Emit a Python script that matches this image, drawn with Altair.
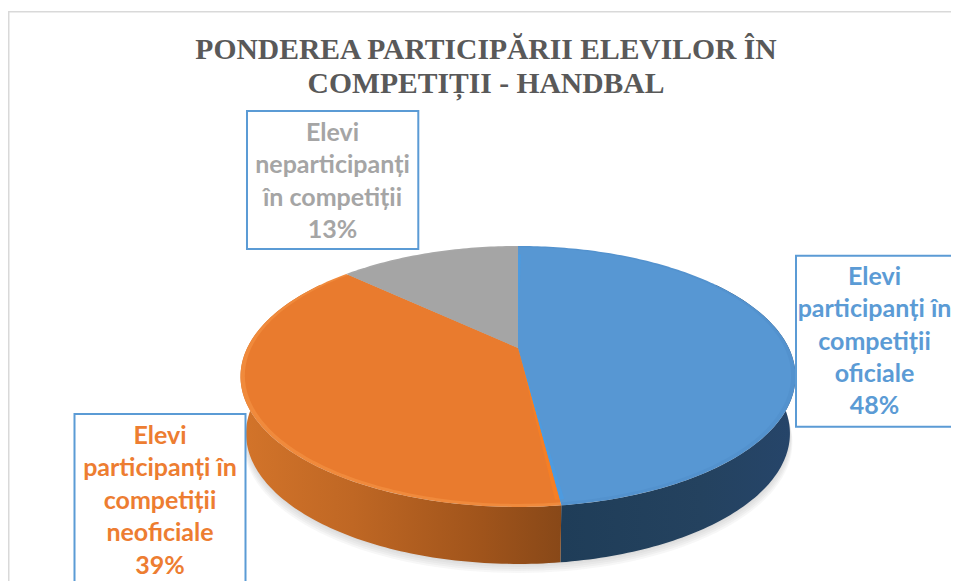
import altair as alt
import numpy as np
import pandas as pd

# --- chart values ---------------------------------------------------------
title_lines = ["PONDEREA PARTICIPĂRII ELEVILOR ÎN", "COMPETIȚII - HANDBAL"]
shares = [48, 39, 13]
labels = [
    ["Elevi", "participanți în", "competiții", "oficiale", "48%"],
    ["Elevi", "participanți în", "competiții", "neoficiale", "39%"],
    ["Elevi", "neparticipanți", "în competiții", "13%"],
]
top_colors = ["#5797d3", "#e97b2e", "#a5a5a5"]
rim_colors = ["#5392ce", "#f08a3c", "#a8a8a8"]
text_colors = ["#5b9bd5", "#ed7d31", "#a5a5a5"]

# --- layout (page pixels) ----------------------------------------------------
W, H = 943, 573
OFF = 8
CX, CY = 518.0, 348.0
A, B, K = 124.3, 270.8, 0.218   # perspective projection of the pie disc
DEPTH = 57.0

x_scale = alt.Scale(domain=[OFF, OFF + W], range=[0, W], nice=False, zero=False)
y_scale = alt.Scale(domain=[OFF, OFF + H], range=[0, H], nice=False, zero=False)


def project(deg, r=1.0, drop=0.0, shrink=1.0):
    a = np.radians(deg)
    px, py = r * np.sin(a), r * np.cos(a)
    w = 1 + K * py
    return CX + shrink * B * px / w, CY - A * py / w + drop


def poly(xs, ys, fill, opacity=1.0):
    df = pd.DataFrame({"x": xs, "y": ys, "i": range(len(xs))})
    return alt.Chart(df).mark_line(
        fill=fill, opacity=opacity, strokeWidth=0, stroke="transparent"
    ).encode(
        x=alt.X("x:Q", scale=x_scale, axis=None),
        y=alt.Y("y:Q", scale=y_scale, axis=None),
        order="i:Q",
    )


def gradient(stops):
    return alt.Gradient(
        gradient="linear", x1=0, x2=1, y1=0, y2=0,
        stops=[alt.GradientStop(offset=o, color=c) for o, c in stops],
    )


def wall(a0, a1, fill):
    angles = np.linspace(a0, a1, int(abs(a1 - a0)) + 2)
    x1, y1 = project(angles)
    x2, y2 = project(angles[::-1], drop=DEPTH, shrink=0.98)
    return poly(np.r_[x1, x2], np.r_[y1, y2], fill)


def slice_top(a0, a1, fill, r=1.0):
    angles = np.linspace(a0, a1, max(int(a1 - a0), 2) + 1)
    x1, y1 = project(angles, r=r)
    return poly(np.r_[CX, x1], np.r_[CY, y1], fill)


total = sum(shares)
bounds = np.cumsum([0] + [360.0 * s / total for s in shares])
layers = []

# frame
layers.append(alt.Chart(pd.DataFrame({"x": [OFF], "x2": [OFF + W], "y": [11.7]}))
              .mark_rule(color="#d9d9d9", strokeWidth=1.5).encode(
    x=alt.X("x:Q", scale=x_scale, axis=None), x2="x2:Q",
    y=alt.Y("y:Q", scale=y_scale, axis=None),
))
layers.append(alt.Chart(pd.DataFrame({"x": [OFF + 0.75], "y": [11.7], "y2": [OFF + H]}))
              .mark_rule(color="#d9d9d9", strokeWidth=1.5).encode(
    x=alt.X("x:Q", scale=x_scale, axis=None),
    y=alt.Y("y:Q", scale=y_scale, axis=None), y2="y2:Q",
))

# soft shadow under the pie
for extra in (9, 7, 5, 3, 1):
    ang = np.arange(0, 360, 2.0)
    sx, sy = project(ang, drop=DEPTH + extra, shrink=0.98 + extra * 0.001)
    layers.append(poly(sx, sy, "#8a8a8a", opacity=0.07))

# side walls
layers.append(wall(55, bounds[1],
                   gradient([(0, "#1f3d58"), (0.6, "#24425f"), (1, "#26456a")])))
layers.append(wall(bounds[1], 305,
                   gradient([(0, "#d3742a"), (0.35, "#bf6724"), (0.75, "#a0541b"), (1, "#884818")])))

# rim then inner disc
for k in range(3):
    layers.append(slice_top(bounds[k], bounds[k + 1], rim_colors[k]))
for k in range(3):
    layers.append(slice_top(bounds[k], bounds[k + 1], top_colors[k], r=0.985))

# brighter stripes along the slice seams
layers.append(slice_top(bounds[0], bounds[0] + 0.8, "#4d9be0", r=0.9))
layers.append(slice_top(bounds[1] - 0.8, bounds[1], "#4d9be0", r=0.97))
layers.append(slice_top(bounds[1], bounds[1] + 0.8, "#f57f25", r=0.97))

# label boxes
boxes = [(796, 970, 255.7, 426.7), (74.5, 245.5, 414, 600), (247, 418.3, 111, 249)]
centers = [(874.5, 276.7), (160, 436), (332.5, 133)]
for k, (x0, x1, y0, y1) in enumerate(boxes):
    df = pd.DataFrame({"x": [x0], "x2": [x1], "y": [y0], "y2": [y1]})
    layers.append(alt.Chart(df).mark_rect(fill="white", stroke="#5b9bd5", strokeWidth=2).encode(
        x=alt.X("x:Q", scale=x_scale, axis=None), x2="x2:Q",
        y=alt.Y("y:Q", scale=y_scale, axis=None), y2="y2:Q",
    ))
    cx, cy = centers[k]
    n = len(labels[k])
    tdf = pd.DataFrame({"t": labels[k], "x": [cx] * n, "y": [cy + 32.4 * i for i in range(n)]})
    layers.append(alt.Chart(tdf).mark_text(
        font="Lato", fontWeight="bold", fontSize=25, color=text_colors[k],
        align="center", baseline="middle",
    ).encode(
        x=alt.X("x:Q", scale=x_scale, axis=None),
        y=alt.Y("y:Q", scale=y_scale, axis=None),
        text="t:N",
    ))

# title
tdf = pd.DataFrame({"t": title_lines, "x": [486, 486], "y": [50, 84]})
layers.append(alt.Chart(tdf).mark_text(
    font="Liberation Serif", fontWeight="bold", fontSize=29.6, color="#595959",
    align="center", baseline="middle",
).encode(
    x=alt.X("x:Q", scale=x_scale, axis=None),
    y=alt.Y("y:Q", scale=y_scale, axis=None),
    text="t:N",
))

chart = alt.layer(*layers).properties(
    width=W, height=H, padding=0,
    autosize=alt.AutoSizeParams(type="none"),
).configure_view(stroke=None)

chart.save("out.html", embed_options={"renderer": "svg", "actions": False})
